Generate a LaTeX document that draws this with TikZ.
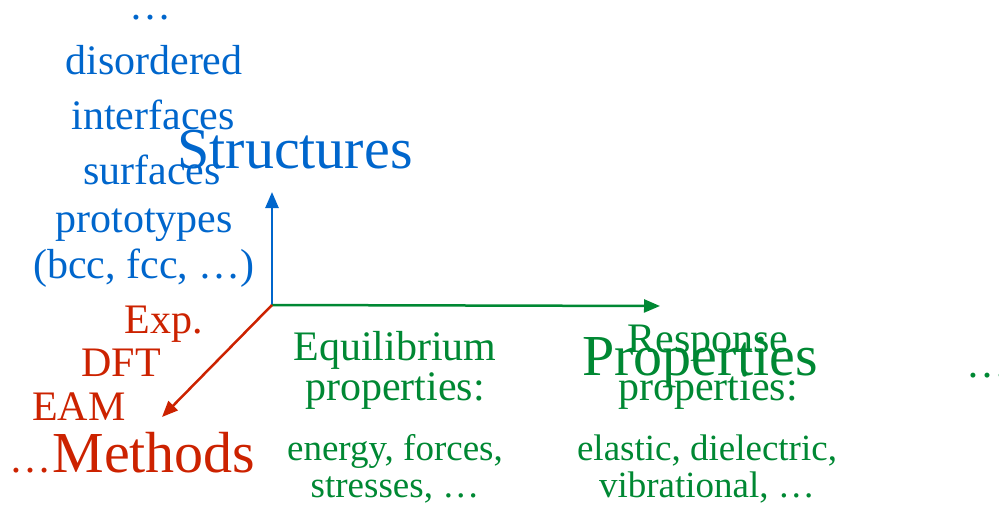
\documentclass[tikz,border=0pt]{standalone}
\usepackage{fontspec}
\setmainfont{Liberation Serif}
\usetikzlibrary{arrows.meta}
\definecolor{structblue}{RGB}{0,102,204}
\definecolor{propgreen}{RGB}{0,136,51}
\definecolor{methred}{RGB}{204,34,0}

\begin{document}
\begin{tikzpicture}[
        x=1pt, y=-1pt,
        lbl/.style={anchor=base, inner sep=0pt, font=\fontsize{42}{44}\selectfont},
        desc/.style={anchor=base, inner sep=0pt, font=\fontsize{37}{39}\selectfont},
        big/.style={anchor=base, inner sep=0pt, font=\fontsize{58}{60}\selectfont},
        axis/.style={line width=2.5pt, -{Triangle[length=16pt,width=13pt]}},
        >=Stealth
    ]
    \useasboundingbox (0,0) rectangle (999,508);

    % axes
    \coordinate (o) at (272,305);
    \coordinate (stip) at (272,192);
    \coordinate (ptip) at (660,306);
    \coordinate (mtip) at (162,417);

    % structures
    \node[lbl, text=structblue] (sdots) at (150,20) {\dots};
    \node[lbl, text=structblue] (disord) at (154,75) {disordered};
    \node[lbl, text=structblue] (interf) at (153,130) {interfaces};
    \node[lbl, text=structblue] (surf) at (152,185) {surfaces};
    \node[lbl, text=structblue] (proto) at (144,232) {prototypes};
    \node[lbl, text=structblue] (bccfcc) at (144,278) {(bcc, fcc, \dots)};
    \node[big, text=structblue] (struct) at (295,168) {Structures};

    % methods
    \node[lbl, text=methred] (exp) at (164,333) {Exp.};
    \node[lbl, text=methred] (dft) at (121,376) {DFT};
    \node[lbl, text=methred] (eam) at (79,420) {EAM};
    \node[big, text=methred] (meth) at (154,472) {Methods};
    \node[lbl, text=methred, anchor=base east] (mdots) at (52,472) {\dots};

    % properties
    \node[lbl, text=propgreen] (equil) at (395,360) {Equilibrium};
    \node[lbl, text=propgreen] (eqprop) at (395,400) {properties:};
    \node[desc, text=propgreen] (eqlist1) at (395,460) {energy, forces,};
    \node[desc, text=propgreen] (eqlist2) at (395,497) {stresses, \dots};
    \node[lbl, text=propgreen] (resp) at (708,352) {Response};
    \node[lbl, text=propgreen] (rsprop) at (708,400) {properties:};
    \node[big, text=propgreen] (props) at (700,375) {Properties};
    \node[desc, text=propgreen] (rslist1) at (707,460) {elastic, dielectric,};
    \node[desc, text=propgreen] (rslist2) at (707,497) {vibrational, \dots};
    \node[lbl, text=propgreen, anchor=base west] (pdots) at (966,377) {\dots};

    \draw[axis, structblue] (o) -- (stip);
    \draw[axis, propgreen] (o) -- (ptip);
    \draw[axis, methred] (o) -- (mtip);
\end{tikzpicture}
\end{document}
